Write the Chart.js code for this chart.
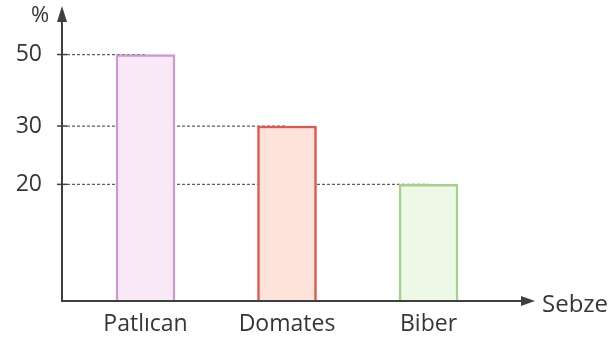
<!DOCTYPE html>
<html lang="tr">
<head>
  <meta charset="UTF-8">
  <title>Sebze</title>
  <script src="https://cdn.jsdelivr.net/npm/chart.js@4"></script>
  <style>
    body {
      margin: 0;
      padding: 0;
      background-color: #ffffff;
    }

    .chart-container {
      position: relative;
      width: 614px;
      height: 344px;
    }
  </style>
</head>
<body>
  <div class="chart-container">
    <canvas id="sebzeChart"></canvas>
  </div>

  <script>
  // veriler
  const categories = ['Patlıcan', 'Domates', 'Biber'];
  const percentages = [50, 30, 20];
  const yTicks = [20, 30, 50];

  // stil
  const barBorders = ['#c99bd0', '#e0574f', '#a3d48a'];
  const barFills = ['#f9e9f6', '#fde3da', '#eef8e7'];
  const textColor = '#363636';
  const fontFamily = "'Open Sans', sans-serif";

  // resim ölçekli değil: 30 üstü sıkıştırılmış
  const BREAK_AT = 30;
  const SQUEEZE = 0.613;

  class BrokenLinearScale extends Chart.LinearScale {
    static id = 'brokenLinear';
    static defaults = {};

    squash(v) {
      return v <= BREAK_AT ? v : BREAK_AT + (v - BREAK_AT) * SQUEEZE;
    }

    unsquash(t) {
      return t <= BREAK_AT ? t : BREAK_AT + (t - BREAK_AT) / SQUEEZE;
    }

    getPixelForValue(v) {
      if (v === null || v === undefined) return NaN;
      const a = this.squash(this.min);
      const b = this.squash(this.max);
      return this.getPixelForDecimal((this.squash(v) - a) / (b - a));
    }

    getValueForPixel(p) {
      const a = this.squash(this.min);
      const b = this.squash(this.max);
      return this.unsquash(a + this.getDecimalForPixel(p) * (b - a));
    }
  }
  Chart.register(BrokenLinearScale);

  // eksenler, oklar, kesikli çizgiler
  const axesPlugin = {
    id: 'axesPlugin',
    beforeDatasetsDraw(chart) {
      const ctx = chart.ctx;
      const area = chart.chartArea;
      const meta = chart.getDatasetMeta(0);
      ctx.save();
      ctx.setLineDash([3, 2]);
      ctx.strokeStyle = '#5f5f5f';
      ctx.lineWidth = 1.3;
      meta.data.forEach(bar => {
        ctx.beginPath();
        ctx.moveTo(area.left + 5, bar.y);
        ctx.lineTo(bar.x, bar.y);
        ctx.stroke();
      });
      ctx.restore();
    },
    afterDatasetsDraw(chart) {
      const ctx = chart.ctx;
      const area = chart.chartArea;
      const y = chart.scales.y;
      ctx.save();
      ctx.strokeStyle = '#3f3f3f';
      ctx.fillStyle = '#3f3f3f';
      ctx.lineWidth = 2;

      // y ekseni
      ctx.beginPath();
      ctx.moveTo(area.left, area.bottom);
      ctx.lineTo(area.left, 18);
      ctx.stroke();
      ctx.beginPath();
      ctx.moveTo(area.left, 6);
      ctx.lineTo(area.left - 5, 22);
      ctx.lineTo(area.left + 5, 22);
      ctx.closePath();
      ctx.fill();

      // x ekseni
      ctx.beginPath();
      ctx.moveTo(area.left - 1, area.bottom);
      ctx.lineTo(area.right - 4, area.bottom);
      ctx.stroke();
      ctx.beginPath();
      ctx.moveTo(area.right + 5, area.bottom);
      ctx.lineTo(area.right - 9, area.bottom - 5);
      ctx.lineTo(area.right - 9, area.bottom + 5);
      ctx.closePath();
      ctx.fill();

      // tick çizgileri
      ctx.lineWidth = 1.5;
      yTicks.forEach(v => {
        const py = y.getPixelForValue(v);
        ctx.beginPath();
        ctx.moveTo(area.left - 5, py);
        ctx.lineTo(area.left + 5, py);
        ctx.stroke();
      });

      // eksen başlıkları
      ctx.fillStyle = textColor;
      ctx.textBaseline = 'middle';
      ctx.textAlign = 'center';
      ctx.font = "22px 'Open Sans', sans-serif";
      ctx.fillText('%', 40, 16);
      ctx.textAlign = 'left';
      ctx.font = "24px 'Open Sans', sans-serif";
      ctx.fillText('Sebze', area.right + 12, area.bottom + 4);
      ctx.restore();
    }
  };

  const ctx = document.getElementById('sebzeChart').getContext('2d');
  new Chart(ctx, {
    type: 'bar',
    data: {
      datasets: [{
        data: categories.map((c, i) => ({ x: i, y: percentages[i] })),
        backgroundColor: barFills,
        borderColor: barBorders,
        borderWidth: 2.5,
        barThickness: 59,
      }]
    },
    options: {
      responsive: true,
      maintainAspectRatio: false,
      animation: false,
      layout: {
        padding: { top: 14, right: 84, left: 0, bottom: 0 }
      },
      plugins: {
        legend: { display: false },
        tooltip: { enabled: false },
      },
      scales: {
        x: {
          type: 'linear',
          offset: false,
          min: -0.59,
          max: 2.717,
          grid: { display: false, drawTicks: false },
          border: { display: false },
          afterBuildTicks: s => { s.ticks = categories.map((c, i) => ({ value: i })); },
          afterFit: s => { s.height = 43; },
          ticks: {
            callback: v => categories[v],
            color: textColor,
            font: { family: fontFamily, size: 23 },
            padding: 10,
            maxRotation: 0,
            autoSkip: false,
          },
        },
        y: {
          type: 'brokenLinear',
          min: 0,
          max: 55.8,
          grid: { display: false, drawTicks: false },
          border: { display: false },
          afterBuildTicks: s => { s.ticks = yTicks.map(v => ({ value: v })); },
          afterFit: s => { s.width = 62; },
          ticks: {
            color: textColor,
            font: { family: fontFamily, size: 23 },
            padding: 20,
          },
        },
      },
    },
    plugins: [axesPlugin],
  });
</script>
</body>
</html>
